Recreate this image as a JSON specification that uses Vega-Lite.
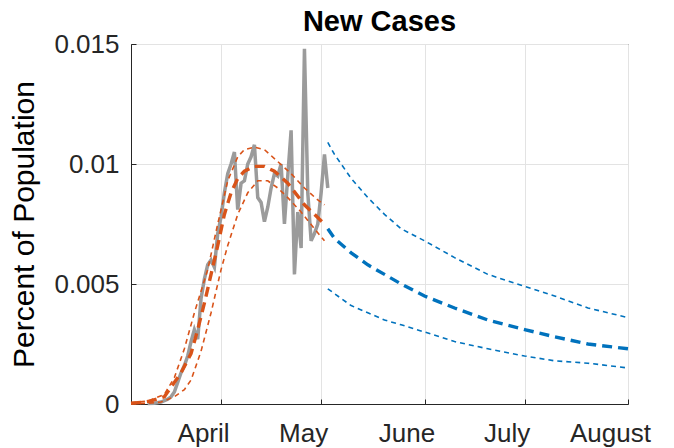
{
  "$schema": "https://vega.github.io/schema/vega-lite/v6.json",
  "width": 497,
  "height": 360,
  "autosize": {"type": "none"},
  "padding": {"left": 131, "top": 44, "right": 46, "bottom": 44},
  "background": "white",
  "config": {
    "font": "Liberation Sans",
    "view": {"stroke": "#262626", "strokeWidth": 1}
  },
  "title": {"text": "New Cases", "fontSize": 29, "fontWeight": "bold", "font": "Liberation Sans", "color": "#000000", "anchor": "middle", "offset": -6},
  "data": {"values": [
    {"s": "obs", "date": "2020-03-10", "v": 0.00002},
    {"s": "obs", "date": "2020-03-12", "v": 0.00003},
    {"s": "obs", "date": "2020-03-14", "v": 0.00008},
    {"s": "obs", "date": "2020-03-16", "v": 0.0002},
    {"s": "obs", "date": "2020-03-17", "v": 0.0003},
    {"s": "obs", "date": "2020-03-18", "v": 0.0005},
    {"s": "obs", "date": "2020-03-19", "v": 0.0009},
    {"s": "obs", "date": "2020-03-20", "v": 0.0013},
    {"s": "obs", "date": "2020-03-21", "v": 0.0016},
    {"s": "obs", "date": "2020-03-22", "v": 0.0020},
    {"s": "obs", "date": "2020-03-23", "v": 0.0026},
    {"s": "obs", "date": "2020-03-24", "v": 0.0031},
    {"s": "obs", "date": "2020-03-25", "v": 0.0027},
    {"s": "obs", "date": "2020-03-26", "v": 0.0044},
    {"s": "obs", "date": "2020-03-27", "v": 0.0052},
    {"s": "obs", "date": "2020-03-28", "v": 0.0058},
    {"s": "obs", "date": "2020-03-29", "v": 0.0060},
    {"s": "obs", "date": "2020-03-30", "v": 0.0057},
    {"s": "obs", "date": "2020-03-31", "v": 0.0071},
    {"s": "obs", "date": "2020-04-01", "v": 0.0078},
    {"s": "obs", "date": "2020-04-02", "v": 0.0088},
    {"s": "obs", "date": "2020-04-03", "v": 0.0096},
    {"s": "obs", "date": "2020-04-04", "v": 0.0100},
    {"s": "obs", "date": "2020-04-05", "v": 0.0105},
    {"s": "obs", "date": "2020-04-06", "v": 0.0081},
    {"s": "obs", "date": "2020-04-07", "v": 0.0092},
    {"s": "obs", "date": "2020-04-08", "v": 0.0093},
    {"s": "obs", "date": "2020-04-09", "v": 0.0100},
    {"s": "obs", "date": "2020-04-10", "v": 0.0103},
    {"s": "obs", "date": "2020-04-11", "v": 0.0108},
    {"s": "obs", "date": "2020-04-12", "v": 0.0086},
    {"s": "obs", "date": "2020-04-13", "v": 0.0084},
    {"s": "obs", "date": "2020-04-14", "v": 0.0076},
    {"s": "obs", "date": "2020-04-15", "v": 0.0082},
    {"s": "obs", "date": "2020-04-16", "v": 0.0090},
    {"s": "obs", "date": "2020-04-17", "v": 0.0096},
    {"s": "obs", "date": "2020-04-18", "v": 0.0095},
    {"s": "obs", "date": "2020-04-19", "v": 0.0100},
    {"s": "obs", "date": "2020-04-20", "v": 0.0075},
    {"s": "obs", "date": "2020-04-21", "v": 0.0095},
    {"s": "obs", "date": "2020-04-22", "v": 0.0114},
    {"s": "obs", "date": "2020-04-23", "v": 0.0054},
    {"s": "obs", "date": "2020-04-24", "v": 0.0080},
    {"s": "obs", "date": "2020-04-25", "v": 0.0065},
    {"s": "obs", "date": "2020-04-26", "v": 0.0148},
    {"s": "obs", "date": "2020-04-27", "v": 0.0088},
    {"s": "obs", "date": "2020-04-28", "v": 0.0068},
    {"s": "obs", "date": "2020-04-29", "v": 0.0071},
    {"s": "obs", "date": "2020-04-30", "v": 0.0075},
    {"s": "obs", "date": "2020-05-01", "v": 0.0088},
    {"s": "obs", "date": "2020-05-02", "v": 0.0104},
    {"s": "obs", "date": "2020-05-03", "v": 0.0090},

    {"s": "fit", "date": "2020-03-05", "v": 0.00003},
    {"s": "fit", "date": "2020-03-08", "v": 0.00006},
    {"s": "fit", "date": "2020-03-11", "v": 0.00013},
    {"s": "fit", "date": "2020-03-15", "v": 0.0003},
    {"s": "fit", "date": "2020-03-18", "v": 0.0009},
    {"s": "fit", "date": "2020-03-20", "v": 0.0013},
    {"s": "fit", "date": "2020-03-23", "v": 0.0021},
    {"s": "fit", "date": "2020-03-25", "v": 0.0031},
    {"s": "fit", "date": "2020-03-27", "v": 0.0042},
    {"s": "fit", "date": "2020-03-29", "v": 0.0054},
    {"s": "fit", "date": "2020-03-31", "v": 0.0066},
    {"s": "fit", "date": "2020-04-02", "v": 0.0079},
    {"s": "fit", "date": "2020-04-04", "v": 0.0088},
    {"s": "fit", "date": "2020-04-06", "v": 0.0094},
    {"s": "fit", "date": "2020-04-08", "v": 0.0097},
    {"s": "fit", "date": "2020-04-11", "v": 0.0099},
    {"s": "fit", "date": "2020-04-14", "v": 0.0099},
    {"s": "fit", "date": "2020-04-17", "v": 0.0097},
    {"s": "fit", "date": "2020-04-21", "v": 0.0092},
    {"s": "fit", "date": "2020-04-26", "v": 0.0083},
    {"s": "fit", "date": "2020-04-29", "v": 0.0079},
    {"s": "fit", "date": "2020-05-02", "v": 0.0075},

    {"s": "fitU", "date": "2020-03-05", "v": 0.00005},
    {"s": "fitU", "date": "2020-03-10", "v": 0.00012},
    {"s": "fitU", "date": "2020-03-15", "v": 0.0004},
    {"s": "fitU", "date": "2020-03-18", "v": 0.0011},
    {"s": "fitU", "date": "2020-03-21", "v": 0.0023},
    {"s": "fitU", "date": "2020-03-24", "v": 0.0038},
    {"s": "fitU", "date": "2020-03-28", "v": 0.0056},
    {"s": "fitU", "date": "2020-03-31", "v": 0.0075},
    {"s": "fitU", "date": "2020-04-03", "v": 0.0093},
    {"s": "fitU", "date": "2020-04-06", "v": 0.0103},
    {"s": "fitU", "date": "2020-04-08", "v": 0.0106},
    {"s": "fitU", "date": "2020-04-11", "v": 0.0107},
    {"s": "fitU", "date": "2020-04-14", "v": 0.0106},
    {"s": "fitU", "date": "2020-04-18", "v": 0.0101},
    {"s": "fitU", "date": "2020-04-22", "v": 0.0096},
    {"s": "fitU", "date": "2020-04-26", "v": 0.0090},
    {"s": "fitU", "date": "2020-04-30", "v": 0.0085},
    {"s": "fitU", "date": "2020-05-02", "v": 0.0083},

    {"s": "fitL", "date": "2020-03-05", "v": 0.00001},
    {"s": "fitL", "date": "2020-03-10", "v": 0.00003},
    {"s": "fitL", "date": "2020-03-14", "v": 0.00008},
    {"s": "fitL", "date": "2020-03-18", "v": 0.0003},
    {"s": "fitL", "date": "2020-03-21", "v": 0.0006},
    {"s": "fitL", "date": "2020-03-23", "v": 0.0010},
    {"s": "fitL", "date": "2020-03-26", "v": 0.0022},
    {"s": "fitL", "date": "2020-03-29", "v": 0.0038},
    {"s": "fitL", "date": "2020-04-01", "v": 0.0056},
    {"s": "fitL", "date": "2020-04-03", "v": 0.0066},
    {"s": "fitL", "date": "2020-04-06", "v": 0.0079},
    {"s": "fitL", "date": "2020-04-09", "v": 0.0088},
    {"s": "fitL", "date": "2020-04-12", "v": 0.0093},
    {"s": "fitL", "date": "2020-04-15", "v": 0.0093},
    {"s": "fitL", "date": "2020-04-18", "v": 0.0090},
    {"s": "fitL", "date": "2020-04-21", "v": 0.0086},
    {"s": "fitL", "date": "2020-04-25", "v": 0.0080},
    {"s": "fitL", "date": "2020-04-29", "v": 0.0073},
    {"s": "fitL", "date": "2020-05-02", "v": 0.0068},

    {"s": "proj", "date": "2020-05-03", "v": 0.0073},
    {"s": "proj", "date": "2020-05-05", "v": 0.0069},
    {"s": "proj", "date": "2020-05-10", "v": 0.0063},
    {"s": "proj", "date": "2020-05-15", "v": 0.0058},
    {"s": "proj", "date": "2020-05-20", "v": 0.0054},
    {"s": "proj", "date": "2020-05-25", "v": 0.0050},
    {"s": "proj", "date": "2020-06-01", "v": 0.0045},
    {"s": "proj", "date": "2020-06-10", "v": 0.0040},
    {"s": "proj", "date": "2020-06-20", "v": 0.0035},
    {"s": "proj", "date": "2020-07-01", "v": 0.0031},
    {"s": "proj", "date": "2020-07-10", "v": 0.0028},
    {"s": "proj", "date": "2020-07-20", "v": 0.0025},
    {"s": "proj", "date": "2020-08-01", "v": 0.0023},

    {"s": "projU", "date": "2020-05-03", "v": 0.0109},
    {"s": "projU", "date": "2020-05-05", "v": 0.0104},
    {"s": "projU", "date": "2020-05-10", "v": 0.0094},
    {"s": "projU", "date": "2020-05-15", "v": 0.0086},
    {"s": "projU", "date": "2020-05-20", "v": 0.0079},
    {"s": "projU", "date": "2020-05-25", "v": 0.0073},
    {"s": "projU", "date": "2020-06-01", "v": 0.0068},
    {"s": "projU", "date": "2020-06-10", "v": 0.0061},
    {"s": "projU", "date": "2020-06-20", "v": 0.0054},
    {"s": "projU", "date": "2020-07-01", "v": 0.0049},
    {"s": "projU", "date": "2020-07-10", "v": 0.0045},
    {"s": "projU", "date": "2020-07-20", "v": 0.0040},
    {"s": "projU", "date": "2020-08-01", "v": 0.0036},

    {"s": "projL", "date": "2020-05-03", "v": 0.0048},
    {"s": "projL", "date": "2020-05-05", "v": 0.0046},
    {"s": "projL", "date": "2020-05-10", "v": 0.0041},
    {"s": "projL", "date": "2020-05-15", "v": 0.0038},
    {"s": "projL", "date": "2020-05-20", "v": 0.0035},
    {"s": "projL", "date": "2020-05-25", "v": 0.0033},
    {"s": "projL", "date": "2020-06-01", "v": 0.0030},
    {"s": "projL", "date": "2020-06-10", "v": 0.0026},
    {"s": "projL", "date": "2020-06-20", "v": 0.0023},
    {"s": "projL", "date": "2020-07-01", "v": 0.0020},
    {"s": "projL", "date": "2020-07-10", "v": 0.0018},
    {"s": "projL", "date": "2020-07-20", "v": 0.0017},
    {"s": "projL", "date": "2020-08-01", "v": 0.0015}
  ]},
  "encoding": {
    "x": {
      "field": "date", "type": "temporal",
      "scale": {"type": "utc", "domain": [{"year": 2020, "month": 3, "date": 5, "utc": true}, {"year": 2020, "month": 8, "date": 1, "utc": true}]},
      "axis": {
        "title": null,
        "values": [
          {"year": 2020, "month": 4, "date": 1, "utc": true},
          {"year": 2020, "month": 5, "date": 1, "utc": true},
          {"year": 2020, "month": 6, "date": 1, "utc": true},
          {"year": 2020, "month": 7, "date": 1, "utc": true},
          {"year": 2020, "month": 8, "date": 1, "utc": true}
        ],
        "format": "%B",
        "labelFontSize": 26,
        "labelColor": "#262626",
        "labelPadding": 21,
        "labelOffset": -18,
        "labelFlush": false,
        "labelOverlap": false,
        "grid": true,
        "gridColor": "#e3e3e3",
        "domainColor": "#262626",
        "tickColor": "#262626",
        "ticks": true,
        "tickSize": -5
      }
    },
    "y": {
      "field": "v", "type": "quantitative",
      "scale": {"domain": [0, 0.015], "nice": false},
      "axis": {
        "title": "Percent of Population",
        "titleFontSize": 30,
        "titleFontWeight": "normal",
        "titleColor": "#000000",
        "titlePadding": 14,
        "values": [0, 0.005, 0.01, 0.015],
        "format": ".3~f",
        "labelFontSize": 26,
        "labelColor": "#262626",
        "labelPadding": 17,
        "grid": true,
        "gridColor": "#e3e3e3",
        "domainColor": "#262626",
        "tickColor": "#262626",
        "ticks": true,
        "tickSize": -5
      }
    }
  },
  "layer": [
    {
      "transform": [{"filter": "datum.s == 'obs'"}],
      "mark": {"type": "line", "color": "#9b9b9b", "strokeWidth": 3.5}
    },
    {
      "transform": [{"filter": "datum.s == 'fitU' || datum.s == 'fitL'"}],
      "mark": {"type": "line", "color": "#D95319", "strokeWidth": 1.6, "strokeDash": [5, 4]},
      "encoding": {"detail": {"field": "s"}}
    },
    {
      "transform": [{"filter": "datum.s == 'fit'"}],
      "mark": {"type": "line", "color": "#D95319", "strokeWidth": 3.4, "strokeDash": [10, 6]}
    },
    {
      "transform": [{"filter": "datum.s == 'projU' || datum.s == 'projL'"}],
      "mark": {"type": "line", "color": "#0072BD", "strokeWidth": 1.6, "strokeDash": [5, 4]},
      "encoding": {"detail": {"field": "s"}}
    },
    {
      "transform": [{"filter": "datum.s == 'proj'"}],
      "mark": {"type": "line", "color": "#0072BD", "strokeWidth": 3.4, "strokeDash": [10, 6]}
    }
  ]
}
